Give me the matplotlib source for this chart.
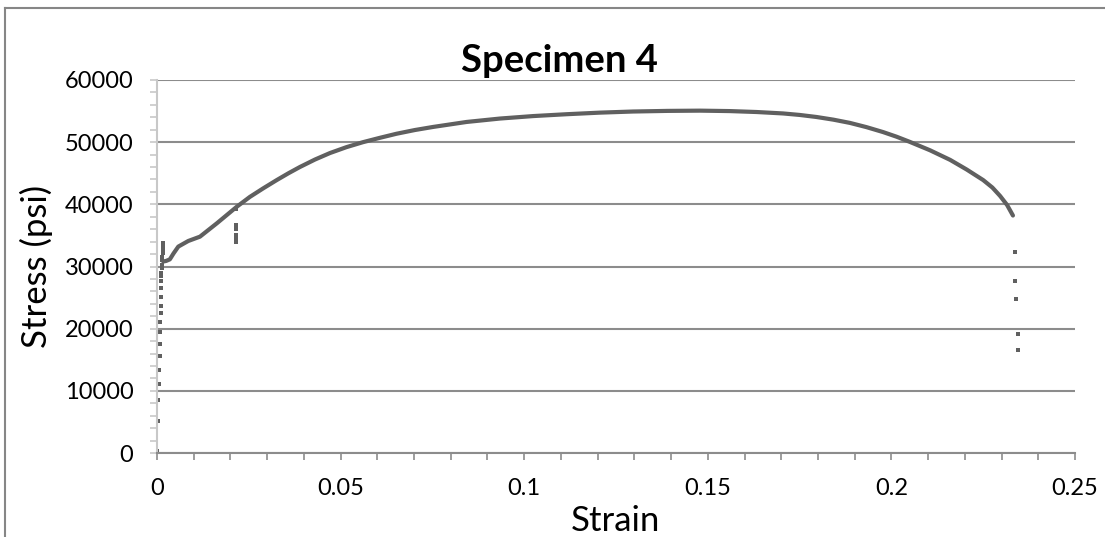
import matplotlib
matplotlib.use("Agg")
import matplotlib.pyplot as plt
from matplotlib.ticker import MultipleLocator
from matplotlib.lines import Line2D

plt.rcParams['font.family'] = ['Lato', 'DejaVu Sans']

# elastic region, sparse points
elastic_strain = [0.0001, 0.0002, 0.0004, 0.0005, 0.0006, 0.0007, 0.0008, 0.0008,
                  0.0009, 0.0010, 0.0010, 0.0011, 0.0011, 0.0012, 0.0012, 0.0012,
                  0.0013, 0.0013, 0.0014, 0.0014, 0.0015, 0.0015, 0.0016, 0.0016]
elastic_stress = [400, 5200, 8600, 11100, 13300, 15600, 17600, 19500,
                  21100, 22500, 23700, 25100, 26500, 27600, 28400, 29000,
                  29700, 30300, 31000, 31600, 32200, 32800, 33300, 33800]

# dense part of the curve
curve_strain = [0.0017, 0.0025, 0.0035, 0.0045, 0.0058, 0.0085, 0.0117, 0.0163,
                0.0217, 0.0253, 0.0290, 0.0326, 0.0358, 0.0389, 0.0430, 0.0471,
                0.0516, 0.0561, 0.0607, 0.0652, 0.0702, 0.0752, 0.0843, 0.0934,
                0.1025, 0.1117, 0.1206, 0.1296, 0.1390, 0.1479, 0.1560, 0.1633,
                0.1705, 0.1750, 0.1796, 0.1842, 0.1887, 0.1932, 0.1977, 0.2014,
                0.2050, 0.2105, 0.2160, 0.2205, 0.2250, 0.2275, 0.2296, 0.2315,
                0.2331]
curve_stress = [30800, 30900, 31150, 32100, 33200, 34100, 34800, 36950,
                39600, 41200, 42600, 43900, 45000, 46000, 47200, 48250,
                49200, 50000, 50700, 51350, 51950, 52450, 53250, 53800,
                54200, 54500, 54750, 54930, 55030, 55070, 55000, 54850,
                54620, 54380, 54050, 53620, 53100, 52420, 51630, 50880,
                50050, 48700, 47150, 45600, 43900, 42700, 41350, 39900,
                38200]

# drop-outs around 0.021 strain
dip_strain = [0.0215, 0.0214, 0.0214, 0.0215, 0.0215, 0.0215, 0.0215]
dip_stress = [39200, 36700, 36000, 35100, 34700, 34300, 34000]

# fracture points
break_strain = [0.2337, 0.2337, 0.2340, 0.2345, 0.2346]
break_stress = [32400, 27700, 24700, 19100, 16600]

col = "#606060"
grid_col = "#8c8c8c"

fig = plt.figure(figsize=(11.05, 5.37), dpi=100)
fig.add_artist(Line2D([5/1105, 5/1105], [0, 1 - 8/537], color="#868686", lw=1.5))
fig.add_artist(Line2D([5/1105, 1], [1 - 8/537, 1 - 8/537], color="#868686", lw=1.5))

ax = fig.add_axes([157/1105, 1 - 453/537, 918/1105, 373/537])

ax.plot(curve_strain, curve_stress, color=col, lw=3, solid_capstyle="round",
        solid_joinstyle="round")
ax.plot(elastic_strain, elastic_stress, "s", color=col, ms=2.8, mew=0)
ax.plot(dip_strain, dip_stress, "s", color=col, ms=2.8, mew=0)
ax.plot(break_strain, break_stress, "s", color=col, ms=2.8, mew=0)

ax.set_xlim(0, 0.25)
ax.set_ylim(0, 60000)
ax.xaxis.set_minor_locator(MultipleLocator(0.01))
ax.yaxis.set_major_locator(MultipleLocator(10000))
ax.yaxis.set_minor_locator(MultipleLocator(2000))
ax.set_xticks([0, 0.05, 0.1, 0.15, 0.2, 0.25])
ax.set_xticklabels(["0", "0.05", "0.1", "0.15", "0.2", "0.25"])

ax.grid(axis="y", which="major", color=grid_col, lw=1.5)
ax.set_axisbelow(True)
for s in ["top", "right"]:
    ax.spines[s].set_visible(False)
ax.spines["bottom"].set_color(grid_col)
ax.spines["bottom"].set_linewidth(1.5)
ax.spines["left"].set_color("#c8c8c8")
ax.spines["left"].set_linewidth(1.5)

ax.tick_params(axis="x", which="both", direction="out", length=5, width=1.2,
               color=grid_col, labelsize=17, pad=13)
ax.tick_params(axis="y", which="both", direction="out", length=5, width=1.2,
               color="#c8c8c8", labelsize=17, pad=12)

fig.text(616/1105, 1 - 531/537, "Strain", fontsize=25, ha="center", va="baseline")
fig.text(47/1105, 1 - 266/537, "Stress (psi)", fontsize=25, rotation=90,
         rotation_mode="anchor", ha="center", va="baseline")
fig.text(559/1105, 1 - 72/537, "Specimen 4", fontsize=27.5, fontweight="bold",
         ha="center", va="baseline")

fig.savefig("out.png", dpi=100)
